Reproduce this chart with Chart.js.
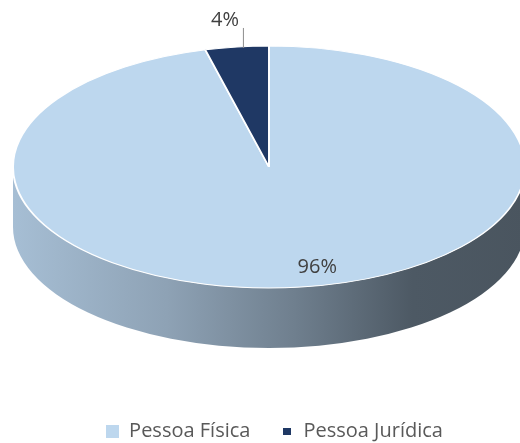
<!DOCTYPE html>
<html><head><meta charset="utf-8">
<script src="https://cdn.jsdelivr.net/npm/chart.js@4.4.0/dist/chart.umd.min.js"></script>
<style>html,body{margin:0;padding:0;background:#fff}#wrap{width:520px;height:443px;position:relative}</style>
</head><body><div id="wrap"><canvas id="c"></canvas></div>
<script>
// ---- data ----
const categories = ['Pessoa Física', 'Pessoa Jurídica'];
const values = [96, 4];
const sliceColors = ['#BDD7EE', '#1F3864'];

// ---- styles ----
const labelColor = '#404040';
const legendColor = '#595959';
const sideStops = [
  [[0, '#a6bed4'], [0.3, '#8ea2b5'], [0.55, '#6f7f8e'], [0.78, '#4d5964'], [1, '#4a555f']],
  [[0, '#1a2f55'], [1, '#101d36']]
];
const VIEW = {cx: 269, cy: 167, rx: 256, ry: 121, depth: 60};

function makeSwatch(w, h, color) {
  const c = document.createElement('canvas');
  c.width = w; c.height = h;
  const g = c.getContext('2d');
  g.fillStyle = color; g.fillRect(0, 0, w, h);
  return c;
}
const swatches = [makeSwatch(13, 13, sliceColors[0]), makeSwatch(8, 7, sliceColors[1])];

function norm(a) { a = a % (2 * Math.PI); if (a < 0) a += 2 * Math.PI; return a; }

const tiltPlugin = {
  id: 'tilt3d',
  beforeDatasetsDraw(chart) {
    const meta = chart.getDatasetMeta(0);
    const ctx = chart.ctx;
    const arc0 = meta.data[0];
    const R = arc0.outerRadius;
    meta.data.forEach((arc, i) => {
      let s = arc.startAngle, e = arc.endAngle;
      const off = norm(s) - s; s += off; e += off;
      const grad = ctx.createLinearGradient(VIEW.cx - VIEW.rx, 0, VIEW.cx + VIEW.rx, 0);
      sideStops[i].forEach(([p, c]) => grad.addColorStop(p, c));
      [[0, Math.PI], [2 * Math.PI, 3 * Math.PI], [4 * Math.PI, 5 * Math.PI]].forEach(([a, b]) => {
        const lo = Math.max(a, s), hi = Math.min(b, e);
        if (hi > lo) {
          ctx.beginPath();
          ctx.ellipse(VIEW.cx, VIEW.cy, VIEW.rx, VIEW.ry, 0, lo, hi);
          ctx.ellipse(VIEW.cx, VIEW.cy + VIEW.depth, VIEW.rx, VIEW.ry, 0, hi, lo, true);
          ctx.closePath();
          ctx.fillStyle = grad;
          ctx.fill();
        }
      });
    });
    ctx.save();
    ctx.translate(VIEW.cx, VIEW.cy);
    ctx.scale(VIEW.rx / R, VIEW.ry / R);
    ctx.translate(-arc0.x, -arc0.y);
  },
  afterDatasetsDraw(chart) {
    const ctx = chart.ctx;
    ctx.restore();
    const meta = chart.getDatasetMeta(0);
    const total = values.reduce((a, b) => a + b, 0);
    ctx.save();
    ctx.font = '20px "Open Sans"';
    ctx.fillStyle = labelColor;
    ctx.textBaseline = 'middle';
    meta.data.forEach((arc, i) => {
      const pct = Math.round(values[i] / total * 100) + '%';
      const mid = (arc.startAngle + arc.endAngle) / 2;
      const c = Math.cos(mid), s = Math.sin(mid);
      if (values[i] / total > 0.1) {
        const f = 0.85;
        ctx.textAlign = 'center';
        ctx.fillText(pct, VIEW.cx + VIEW.rx * f * c + 21, VIEW.cy + VIEW.ry * f * s - 2);
      } else {
        const ex = VIEW.cx + VIEW.rx * c + 6, ey = VIEW.cy + VIEW.ry * s + 1;
        ctx.strokeStyle = '#8c8c8c';
        ctx.lineWidth = 1;
        ctx.beginPath();
        ctx.moveTo(ex + 0.5, ey);
        ctx.lineTo(ex + 0.5, ey - 20);
        ctx.stroke();
        ctx.textAlign = 'right';
        ctx.fillText(pct, ex - 4, ey - 28);
      }
    });
    ctx.restore();
  }
};

Chart.defaults.font.family = '"Open Sans", sans-serif';

new Chart(document.getElementById('c'), {
  type: 'pie',
  data: {
    labels: categories,
    datasets: [{
      data: values,
      backgroundColor: sliceColors,
      borderColor: '#ffffff',
      borderWidth: 1.5,
      clip: false
    }]
  },
  options: {
    responsive: true,
    maintainAspectRatio: false,
    animation: false,
    events: [],
    layout: {padding: {left: 29, right: 0, top: 0, bottom: -8}},
    plugins: {
      tooltip: {enabled: false},
      legend: {
        position: 'bottom',
        labels: {
          usePointStyle: true,
          boxWidth: 13,
          boxHeight: 13,
          padding: 30,
          color: legendColor,
          font: {size: 20, family: '"Open Sans", sans-serif'},
          generateLabels() {
            return categories.map((c, i) => ({
              text: c, fillStyle: sliceColors[i], strokeStyle: sliceColors[i],
              lineWidth: 0, pointStyle: swatches[i], hidden: false, index: i, fontColor: legendColor
            }));
          }
        }
      }
    }
  },
  plugins: [tiltPlugin]
});
</script>
</body></html>
